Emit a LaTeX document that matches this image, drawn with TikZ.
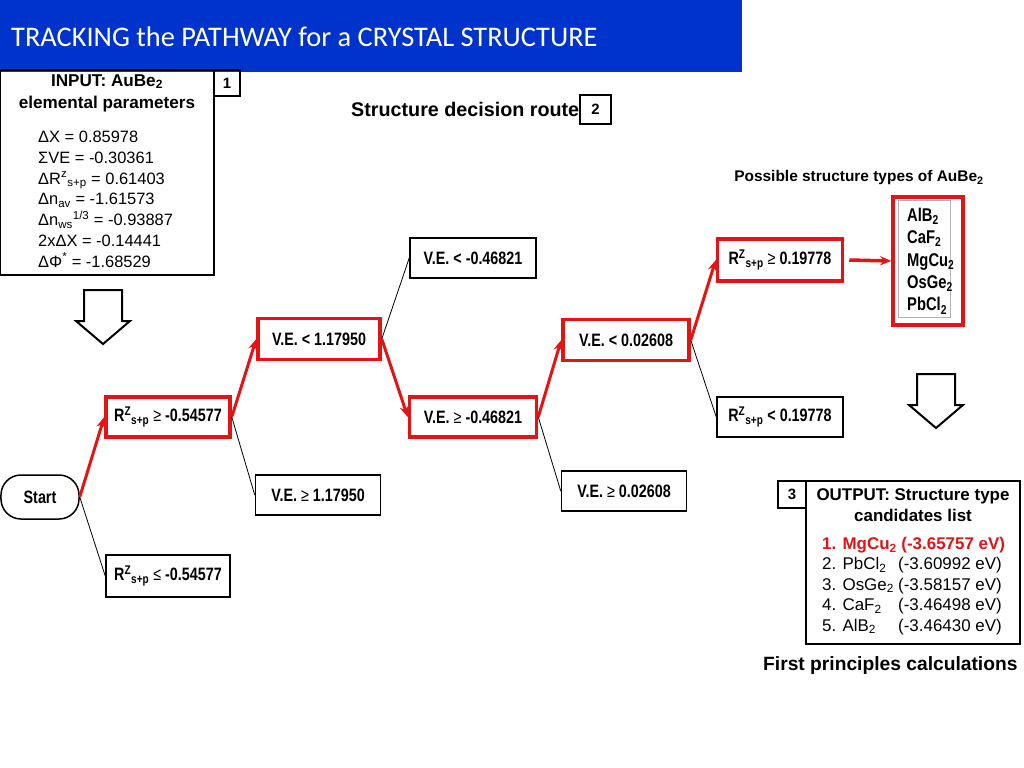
\documentclass[tikz,border=0pt]{standalone}
\usepackage{fontspec}
\setmainfont{Liberation Sans}
\newfontfamily\titlefont{Carlito}
\newfontfamily\narrowfont[FakeStretch=0.8]{Liberation Sans}
\usetikzlibrary{positioning, arrows.meta,
calc % for the hollow arrows
}
\definecolor{routered}{RGB}{228,20,20}
\definecolor{titleblue}{RGB}{0,51,204}
\newcommand{\lowidx}[1]{\textsubscript{#1}}
\newcommand{\highidx}[1]{\textsuperscript{#1}}
\newcommand{\atleast}{{\mdseries ≥}}
\newcommand{\atmost}{{\mdseries ≤}}
\tikzset{%
  every node/.style={inner sep=0pt},
  cond/.style={draw, line width=1.5bp, minimum width=125bp, minimum height=40bp,
    font=\narrowfont\bfseries\fontsize{18}{20}\selectfont}, % one test of the route
  chosen/.style={cond, draw=routered, line width=3.5bp}, % test that the route takes
  taken/.style={draw=routered, line width=3bp, -{Stealth[length=11bp,width=9bp]}},
  rejected/.style={draw, line width=0.8bp},
  numbox/.style={draw, line width=1.2bp, font=\bfseries\fontsize{15}{17}\selectfont},
  hollowdown/.pic={\draw[line width=2bp] (-19,0) -- (19,0) -- (19,31) -- (27,31)
    -- (0,54) -- (-27,31) -- (-19,31) -- cycle;}
}

\begin{document}
\begin{tikzpicture}[x=1bp, y=-1bp]
    \useasboundingbox (0,0) rectangle (1024,768);

    % title bar
    \fill[titleblue] (0,0) rectangle (742,72);
    \node[anchor=west, text=white, font=\titlefont\fontsize{28.5}{32}\selectfont] (title) at (11,37)
      {TRACKING the PATHWAY for a CRYSTAL STRUCTURE};

    % input
    \node[draw, line width=1.2bp, minimum width=214bp, minimum height=205bp] (input) at (107,172.5) {};
    \node[align=center, font=\bfseries\fontsize{17.2}{22}\selectfont] (inhead) at (107,93)
      {INPUT: AuBe\lowidx{2}\\elemental parameters};
    \node[anchor=north west, align=left, font=\fontsize{16.5}{20.8}\selectfont] (inlist) at (38,131)
      {ΔX = 0.85978\\ΣVE = -0.30361\\ΔR\highidx{z}\lowidx{s+p} = 0.61403\\Δn\lowidx{av} = -1.61573\\
       Δn\lowidx{ws}\highidx{1/3} = -0.93887\\2xΔX = -0.14441\\ΔΦ\highidx{*} = -1.68529};
    \node[numbox, minimum width=26bp, minimum height=26bp] (one) at (227,83) {1};
    \pic at (103,290) {hollowdown};

    % decision route
    \node[numbox, minimum width=31bp, minimum height=29bp] (two) at (595.5,109.5) {2};
    \node[anchor=east, font=\bfseries\fontsize{19.8}{22}\selectfont] (routelabel) at (two.west) {Structure decision route};

    \node[cond, rounded corners=20bp, minimum width=78bp, minimum height=44bp] (start) at (40,497) {Start};

    \node[chosen, minimum width=124bp] (r1) at (168,417) {R\highidx{Z}\lowidx{s+p} \atleast{} -0.54577};
    \node[cond, minimum width=124bp, minimum height=42bp] (r1b) at (168,576) {R\highidx{Z}\lowidx{s+p} \atmost{} -0.54577};

    \node[chosen, minimum width=122bp, minimum height=41bp] (ve1) at (319,339) {V.E. < 1.17950};
    \node[cond] (ve1b) at (318,495) {V.E. \atleast{} 1.17950};

    \node[cond, minimum width=126bp] (ve2) at (473,258) {V.E. < -0.46821};
    \node[chosen, minimum width=127bp] (ve2b) at (473,417) {V.E. \atleast{} -0.46821};

    \node[chosen, minimum width=126bp, minimum height=41bp] (ve3) at (626,340) {V.E. < 0.02608};
    \node[cond] (ve3b) at (624,491) {V.E. \atleast{} 0.02608};

    \node[chosen, minimum height=42bp] (r2) at (780,260) {R\highidx{Z}\lowidx{s+p} \atleast{} 0.19778};
    \node[cond, minimum width=126bp] (r2b) at (780,417) {R\highidx{Z}\lowidx{s+p} < 0.19778};

    \draw[taken] (start.east) -- (r1.west);
    \draw[rejected] (start.east) -- (r1b.west);
    \draw[taken] (r1.east) -- (ve1.west);
    \draw[rejected] (r1.east) -- (ve1b.west);
    \draw[rejected] (ve1.east) -- (ve2.west);
    \draw[taken] (ve1.east) -- (ve2b.west);
    \draw[taken] (ve2b.east) -- (ve3.west);
    \draw[rejected] (ve2b.east) -- (ve3b.west);
    \draw[taken] (ve3.east) -- (r2.west);
    \draw[rejected] (ve3.east) -- (r2b.west);

    % possible structure types
    \node[font=\bfseries\fontsize{15.5}{17}\selectfont] (typelabel) at (859,178)
      {Possible structure types of AuBe\lowidx{2}};
    \node[draw=routered, line width=3.5bp, minimum width=70bp, minimum height=128bp] (typebox) at (928,261) {};
    \node[draw=black!30, line width=0.6bp, minimum width=52bp, minimum height=117bp] (typeframe) at (924,259) {};
    \node[anchor=west, align=left, font=\narrowfont\bfseries\fontsize{18.5}{22.5}\selectfont] (typelist) at (907,261)
      {AlB\lowidx{2}\\CaF\lowidx{2}\\MgCu\lowidx{2}\\OsGe\lowidx{2}\\PbCl\lowidx{2}};
    \draw[taken, line width=3.5bp] (r2.east) ++(5,0) -- (typebox.west);
    \pic at (936,374) {hollowdown};

    % output
    \node[numbox, minimum width=28bp, minimum height=27bp] (three) at (792,494.5) {3};
    \node[draw, line width=1.2bp, minimum width=214bp, minimum height=163bp] (output) at (913,562.5) {};
    \node[align=center, font=\bfseries\fontsize{17}{21}\selectfont] (outhead) at (913,505)
      {OUTPUT: Structure type\\candidates list};
    \node[anchor=north west, align=left, font=\fontsize{17}{20.5}\selectfont] (outlist) at (822,537)
      {\textcolor{routered}{\bfseries 1. MgCu\lowidx{2} (-3.65757 eV)}\\
       \makebox[76bp][l]{2. PbCl\lowidx{2}}(-3.60992 eV)\\
       \makebox[76bp][l]{3. OsGe\lowidx{2}}(-3.58157 eV)\\
       \makebox[76bp][l]{4. CaF\lowidx{2}}(-3.46498 eV)\\
       \makebox[76bp][l]{5. AlB\lowidx{2}}(-3.46430 eV)};
    \node[anchor=west, font=\bfseries\fontsize{19.3}{22}\selectfont] (calclabel) at (763,666)
      {First principles calculations};
\end{tikzpicture}
\end{document}
